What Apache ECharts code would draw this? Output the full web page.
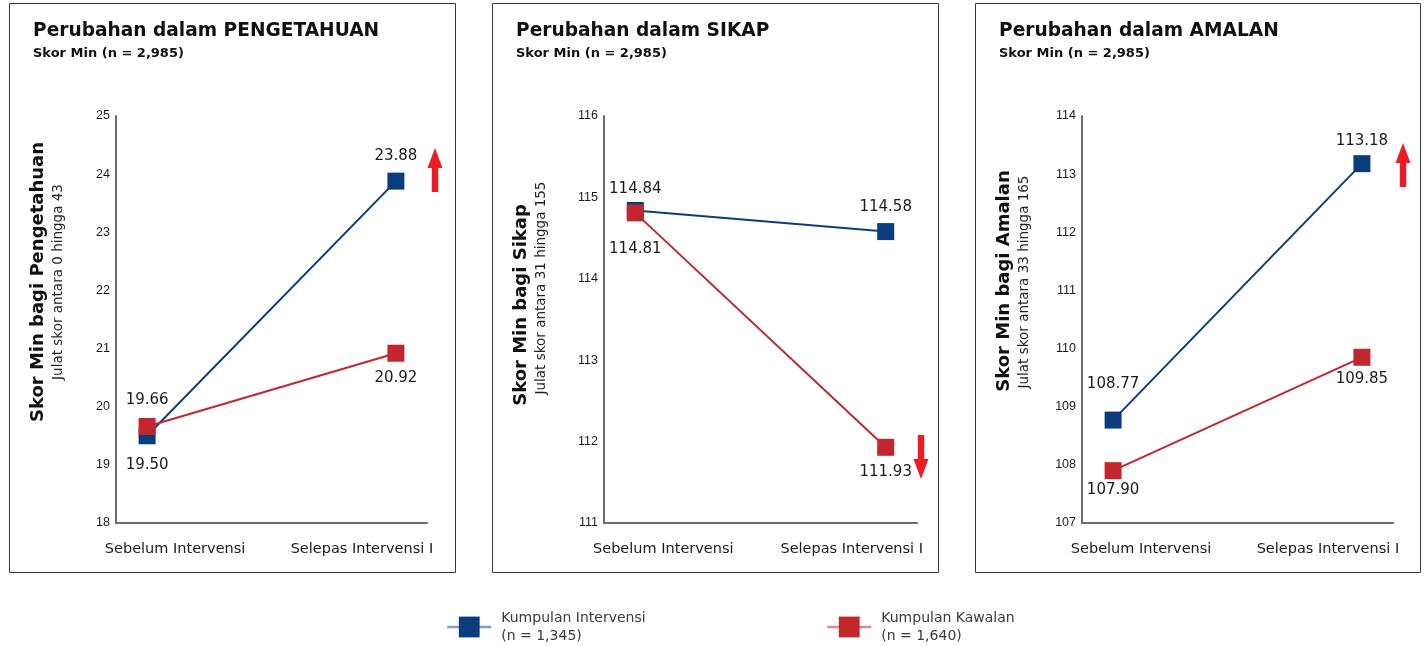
<!DOCTYPE html>
<html><head><meta charset="utf-8">
<script src="https://cdn.jsdelivr.net/npm/echarts@6/dist/echarts.min.js"></script>
<style>html,body{margin:0;padding:0;background:#fff}#c{width:1425px;height:647px}</style>
</head><body><div id="c"></div>
<script>
// ---- data ----
const categories = ['Sebelum Intervensi', 'Selepas Intervensi I'];
const seriesNames = ['Kumpulan Intervensi', 'Kumpulan Kawalan'];
const seriesCounts = ['(n = 1,345)', '(n = 1,640)'];
const panelTitles = ['Perubahan dalam PENGETAHUAN', 'Perubahan dalam SIKAP', 'Perubahan dalam AMALAN'];
const panelSubtitle = 'Skor Min (n = 2,985)';
const axisNames = ['Skor Min bagi Pengetahuan', 'Skor Min bagi Sikap', 'Skor Min bagi Amalan'];
const axisRanges = ['Julat skor antara 0 hingga 43', 'Julat skor antara 31 hingga 155', 'Julat skor antara 33 hingga 165'];
const pengetahuanIntervensi = [19.50, 23.88];
const pengetahuanKawalan = [19.66, 20.92];
const sikapIntervensi = [114.84, 114.58];
const sikapKawalan = [114.81, 111.93];
const amalanIntervensi = [108.77, 113.18];
const amalanKawalan = [107.90, 109.85];
const yMin = [18, 111, 107];
const yMax = [25, 116, 114];
const yInterval = 1;

// ---- layout / style ----
const panelData = [
  [pengetahuanIntervensi, pengetahuanKawalan],
  [sikapIntervensi, sikapKawalan],
  [amalanIntervensi, amalanKawalan]
];
const panelLeft = [9, 492, 975];
const panelRight = [455, 938, 1420];
const panelTop = 3, panelBottom = 572;
const gridLeft = [116, 604, 1082];
const gridWidth = [311, 313, 311];
const gridTop = 116, gridHeight = 407;
const nameCenterY = [[282, 282], [305, 288], [281, 282]];
const colors = ['#0b3d7e', '#c1272d'];
const legendLineColors = ['#7f9fc6', '#e08a8f'];
// label placement per panel / series / point: [position, distance]
const labelSpec = [
  [[['bottom', 13], ['top', 9]], [['top', 10], ['bottom', 9]]],
  [[['top', 5], ['top', 8]], [['bottom', 20], ['bottom', 9]]],
  [[['top', 20], ['top', 7]], [['bottom', 3], ['bottom', 6]]]
];
const arrows = [ // [centerX, top, bottom, direction]
  [435, 148, 192, 'up'],
  [921, 435, 479, 'down'],
  [1403, 143, 187, 'up']
];
const FONT = 'DejaVu Sans';

const grids = [], xAxes = [], yAxes = [], series = [], graphics = [];
for (let p = 0; p < 3; p++) {
  grids.push({left: gridLeft[p], top: gridTop, width: gridWidth[p], height: gridHeight});
  xAxes.push({
    type: 'value', gridIndex: p, min: -0.125, max: 1.125,
    axisLine: {show: true, onZero: false, lineStyle: {color: '#6b6b6b', width: 2}},
    axisTick: {show: false}, splitLine: {show: false},
    axisLabel: {
      customValues: [0, 1], margin: 19,
      formatter: v => v === 0 ? '{l|' + categories[0] + '}' : '{r|' + categories[1] + '}',
      rich: {
        l: {fontFamily: FONT, fontSize: 14.5, color: '#1a1a1a', padding: [0, 0, 0, 56]},
        r: {fontFamily: FONT, fontSize: 14.5, color: '#1a1a1a', padding: [0, 68, 0, 0]}
      }
    }
  });
  yAxes.push({
    type: 'value', gridIndex: p, min: yMin[p], max: yMax[p], interval: yInterval,
    axisLine: {show: true, onZero: false, lineStyle: {color: '#6b6b6b', width: 2}},
    axisTick: {show: false}, splitLine: {show: false},
    axisLabel: {fontFamily: 'Liberation Sans', fontSize: 12.5, color: '#1a1a1a', margin: 6}
  });
  for (let s = 0; s < 2; s++) {
    const vals = panelData[p][s];
    series.push({
      type: 'line', name: seriesNames[s], xAxisIndex: p, yAxisIndex: p,
      symbol: 'rect', symbolSize: 17, z: 2 + s,
      lineStyle: {color: colors[s], width: 2},
      itemStyle: {color: colors[s]},
      emphasis: {disabled: true},
      data: vals.map((v, i) => ({
        value: [i, v],
        label: {show: true, position: labelSpec[p][s][i][0], distance: labelSpec[p][s][i][1]}
      })),
      label: {
        fontFamily: FONT, fontSize: 15, color: '#1a1a1a',
        formatter: d => d.value[1].toFixed(2)
      }
    });
  }
  // panel frame
  graphics.push({
    type: 'rect', silent: true, z: -1,
    shape: {x: panelLeft[p] + 0.5, y: panelTop + 0.5, width: panelRight[p] - panelLeft[p], height: panelBottom - panelTop},
    style: {fill: 'none', stroke: '#3a3a3a', lineWidth: 1}
  });
  // titles
  graphics.push({
    type: 'text', x: panelLeft[p] + 24, y: 31,
    style: {text: panelTitles[p], fontFamily: FONT, fontWeight: 'bold', fontSize: 18.6, fill: '#111', verticalAlign: 'middle'}
  });
  graphics.push({
    type: 'text', x: panelLeft[p] + 24, y: 54,
    style: {text: panelSubtitle, fontFamily: FONT, fontWeight: 'bold', fontSize: 13, fill: '#111', verticalAlign: 'middle'}
  });
  // y axis names (rotated)
  graphics.push({
    type: 'text', x: panelLeft[p] + 29, y: nameCenterY[p][0], rotation: Math.PI / 2,
    style: {text: axisNames[p], fontFamily: FONT, fontWeight: 'bold', fontSize: 18, fill: '#111', align: 'center', verticalAlign: 'middle'}
  });
  graphics.push({
    type: 'text', x: panelLeft[p] + 49, y: nameCenterY[p][1], rotation: Math.PI / 2,
    style: {text: axisRanges[p], fontFamily: FONT, fontSize: 13.5, fill: '#222', align: 'center', verticalAlign: 'middle'}
  });
}
// change arrows
arrows.forEach(([cx, top, bottom, dir]) => {
  const hw = 7.5, sw = 3.2, hh = 20;
  let pts;
  if (dir === 'up') {
    pts = [[cx, top], [cx + hw, top + hh], [cx + sw, top + hh], [cx + sw, bottom], [cx - sw, bottom], [cx - sw, top + hh], [cx - hw, top + hh]];
  } else {
    pts = [[cx, bottom], [cx + hw, bottom - hh], [cx + sw, bottom - hh], [cx + sw, top], [cx - sw, top], [cx - sw, bottom - hh], [cx - hw, bottom - hh]];
  }
  graphics.push({type: 'polygon', shape: {points: pts}, style: {fill: '#ed1c24'}});
});

const legendLeft = [441, 821];
const legends = seriesNames.map((n, i) => ({
  left: legendLeft[i], top: 604, orient: 'horizontal',
  itemWidth: 44, itemHeight: 26, selectedMode: false,
  data: [{name: n, itemStyle: {color: colors[i]}, lineStyle: {color: legendLineColors[i], width: 2.5}}],
  formatter: name => name + '\n' + seriesCounts[seriesNames.indexOf(name)],
  textStyle: {fontFamily: FONT, fontSize: 14, color: '#3a3a3a', lineHeight: 18, padding: [0, 0, 0, 5]}
}));

const chart = echarts.init(document.getElementById('c'), null, {renderer: 'canvas'});
chart.setOption({
  animation: false,
  backgroundColor: '#fff',
  grid: grids, xAxis: xAxes, yAxis: yAxes, series: series,
  legend: legends,
  graphic: graphics
});
</script>
</body></html>
